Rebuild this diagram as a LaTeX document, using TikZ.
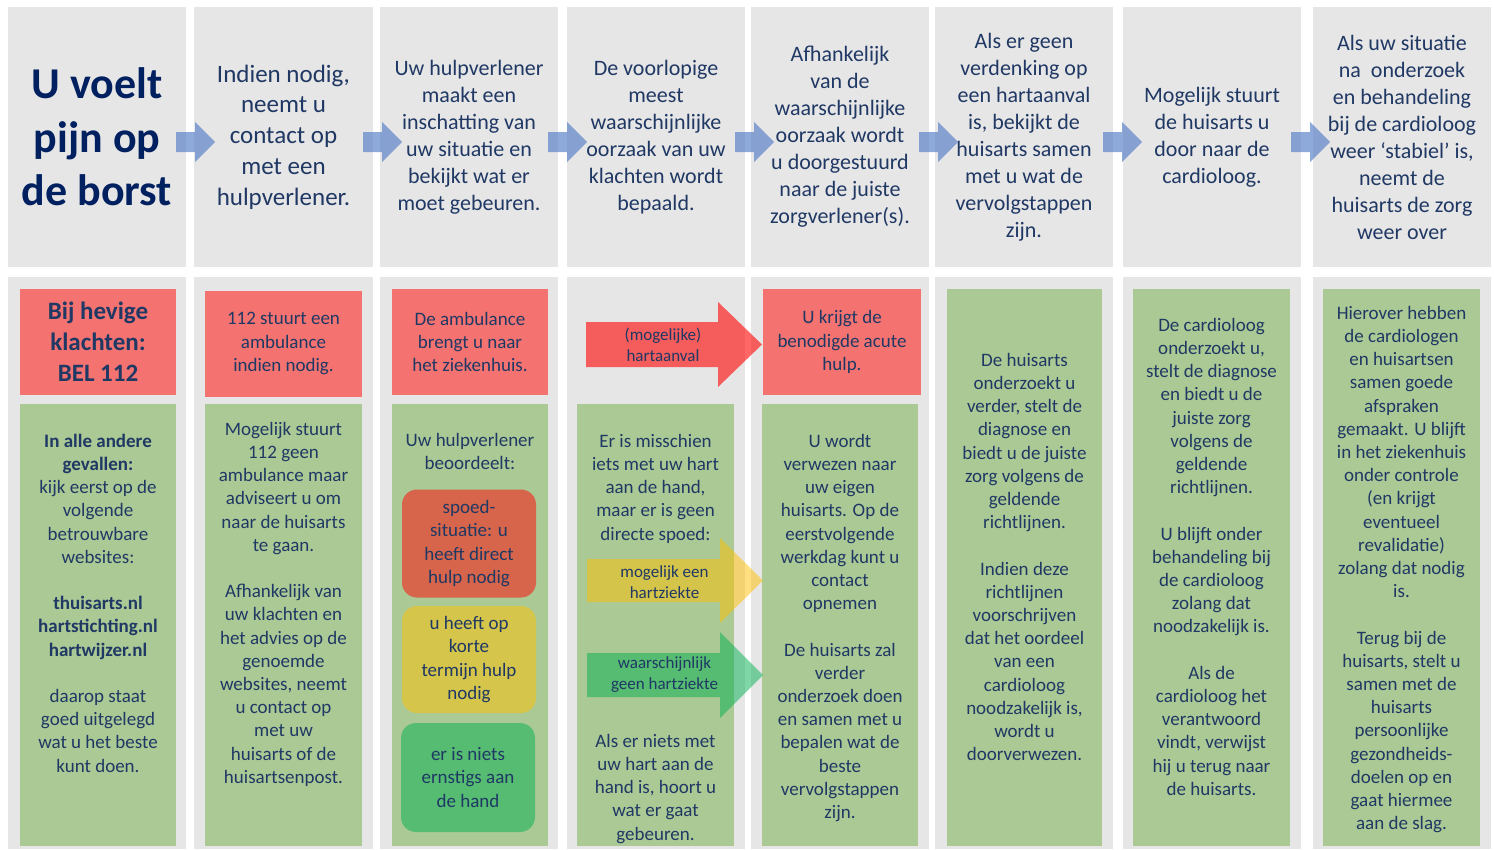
\documentclass[tikz,border=0pt]{standalone}
\usepackage{fontspec}
\setmainfont{Carlito}
\usetikzlibrary{positioning,calc}

\definecolor{panelgray}{HTML}{E7E6E6}
\definecolor{alarmred}{HTML}{F47371}
\definecolor{calmgreen}{HTML}{ABC995}
\definecolor{navy}{HTML}{1F3864}
\definecolor{titlenavy}{HTML}{002060}
\definecolor{stepblue}{HTML}{4472C4}
\definecolor{urgentred}{HTML}{D7654B}
\definecolor{soonyellow}{HTML}{D5C54B}
\definecolor{okgreen}{HTML}{55BC72}
\definecolor{gold}{HTML}{FFC000}
\definecolor{officegreen}{HTML}{00B050}

\newcommand{\bodyfont}{\fontsize{19}{23.2}\selectfont}
\newcommand{\fatarrow}[7]{\fill[#1] (#2,#5-#6) -- (#3,#5-#6) -- (#3,#5-#7) -- (#4,#5) -- (#3,#5+#7) -- (#3,#5+#6) -- (#2,#5+#6) -- cycle;}

\tikzset{
  topbox/.style={fill=panelgray, minimum width=178pt, minimum height=260pt, inner sep=0pt, align=center, text=navy, font=\fontsize{22}{27}\selectfont},
  panel/.style={fill=panelgray, minimum width=178pt, minimum height=572pt, inner sep=0pt},
  redbox/.style={fill=alarmred, minimum width=157pt, minimum height=106pt, inner sep=0pt, align=center, text=navy, font=\bodyfont},
  greenbox/.style={fill=calmgreen, minimum width=157pt, inner sep=0pt},
  roundbox/.style={rounded corners=15pt, minimum width=134pt, minimum height=108pt, inner sep=0pt, align=center, text=navy, font=\bodyfont},
  bodytext/.style={align=center, text=navy, font=\bodyfont, inner sep=0pt, execute at begin node=\strut},
  arrowtext/.style={align=center, text=navy, font=\fontsize{17}{21}\selectfont, inner sep=0pt},
  nextstep/.style={fill=stepblue, opacity=0.6}
}

\begin{document}
\begin{tikzpicture}[x=1pt,y=-1pt]
\useasboundingbox (0,0) rectangle (1494,849);
\fill[white] (0,0) rectangle (1494,849);

% Top row: the steps
\node[topbox, font=\fontsize{44}{53.5}\selectfont\bfseries, text=titlenavy] (t1) at (97,137) {U voelt\\pijn op\\de borst};
\node[topbox, minimum width=179pt, font=\fontsize{25}{30.8}\selectfont] (t2) at (283.5,137) {Indien nodig,\\neemt u\\contact op\\met een\\hulpverlener.};
\node[topbox] (t3) at (469,137) {Uw hulpverlener\\maakt een\\inschatting van\\uw situatie en\\bekijkt wat er\\moet gebeuren.};
\node[topbox] (t4) at (656,137) {De voorlopige\\meest\\waarschijnlijke\\oorzaak van uw\\klachten wordt\\bepaald.};
\node[topbox] (t5) at (840,137) {Afhankelijk\\van de\\waarschijnlijke\\oorzaak wordt\\u doorgestuurd\\naar de juiste\\zorgverlener(s).};
\node[topbox] (t6) at (1024,137) {Als er geen\\verdenking op\\een hartaanval\\is, bekijkt de\\huisarts samen\\met u wat de\\vervolgstappen\\zijn.};
\node[topbox] (t7) at (1212,137) {Mogelijk stuurt\\de huisarts u\\door naar de\\cardioloog.};
\node[topbox] (t8) at (1402,137) {Als uw situatie\\na~ onderzoek\\en behandeling\\bij de cardioloog\\weer ‘stabiel’ is,\\neemt de\\huisarts de zorg\\weer over};

% Arrows between the steps
\foreach \i in {1,...,7}
  \fill[nextstep] ($(t\i.east)+(-10,-5)$) -- ++(19,0) -- ++(0,-10) -- ++(20,20) -- ++(-20,20) -- ++(0,-10) -- ++(-19,0) -- cycle;

% Bottom row: grey panels
\node[panel] (b1) at (97,563) {};
\node[panel, minimum width=179pt] (b2) at (283.5,563) {};
\node[panel] (b3) at (469,563) {};
\node[panel] (b4) at (656,563) {};
\node[panel] (b5) at (840,563) {};
\node[panel] (b6) at (1024,563) {};
\node[panel] (b7) at (1212,563) {};
\node[panel] (b8) at (1402,563) {};

% Red boxes
\node[redbox, minimum width=156pt, font=\fontsize{25}{31}\selectfont\bfseries] (r1) at (98,342) {Bij hevige\\klachten:\\BEL 112};
\node[redbox] (r2) at (283.5,343.5) {112 stuurt een\\ambulance\\indien nodig.};
\node[redbox, minimum width=156pt] (r3) at (470,342) {De ambulance\\brengt u naar\\het ziekenhuis.};
\node[redbox, minimum width=158pt] (r5) at (842,342) {U krijgt de\\benodigde acute\\hulp.};

% Green boxes
\node[greenbox, minimum width=156pt, minimum height=442pt] (g1) at (98,625) {};
\node[greenbox, minimum height=442pt] (g2) at (283.5,625) {};
\node[greenbox, minimum width=156pt, minimum height=442pt] (g3) at (470,625) {};
\node[greenbox, minimum height=442pt] (g4) at (655.5,625) {};
\node[greenbox, minimum width=156pt, minimum height=442pt] (g5) at (840,625) {};
\node[greenbox, minimum width=155pt, minimum height=557pt] (g6) at (1024.5,567.5) {};
\node[greenbox, minimum height=557pt] (g7) at (1211.5,567.5) {};
\node[greenbox, minimum height=557pt] (g8) at (1401.5,567.5) {};

% Texts in the green boxes
\node[bodytext, below=30pt of g1.north] (g1txt) {\textbf{In alle andere}\\\textbf{gevallen:}\\kijk eerst op de\\volgende\\betrouwbare\\websites:\\[23.2pt]\textbf{thuisarts.nl}\\\textbf{hartstichting.nl}\\\textbf{hartwijzer.nl}\\[23.2pt]daarop staat\\goed uitgelegd\\wat u het beste\\kunt doen.};
\node[bodytext, below=18pt of g2.north] (g2txt) {Mogelijk stuurt\\112 geen\\ambulance maar\\adviseert u om\\naar de huisarts\\te gaan.\\[23.2pt]Afhankelijk van\\uw klachten en\\het advies op de\\genoemde\\websites, neemt\\u contact op\\met uw\\huisarts of de\\huisartsenpost.};
\node[bodytext, below=29pt of g3.north] (g3txt) {Uw hulpverlener\\beoordeelt:};
\node[bodytext, below=30pt of g4.north] (g4txt) {Er is misschien\\iets met uw hart\\aan de hand,\\maar er is geen\\directe spoed:};
\node[bodytext, below=330pt of g4.north] (g4low) {Als er niets met\\uw hart aan de\\hand is, hoort u\\wat er gaat\\gebeuren.};
\node[bodytext, below=30pt of g5.north] (g5txt) {U wordt\\verwezen naar\\uw eigen\\huisarts. Op de\\eerstvolgende\\werkdag kunt u\\contact\\opnemen\\[23.2pt]De huisarts zal\\verder\\onderzoek doen\\en samen met u\\bepalen wat de\\beste\\vervolgstappen\\zijn.};
\node[bodytext, below=64pt of g6.north] (g6txt) {De huisarts\\onderzoekt u\\verder, stelt de\\diagnose en\\biedt u de juiste\\zorg volgens de\\geldende\\richtlijnen.\\[23.2pt]Indien deze\\richtlijnen\\voorschrijven\\dat het oordeel\\van een\\cardioloog\\noodzakelijk is,\\wordt u\\doorverwezen.};
\node[bodytext, below=29pt of g7.north] (g7txt) {De cardioloog\\onderzoekt u,\\stelt de diagnose\\en biedt u de\\juiste zorg\\volgens de\\geldende\\richtlijnen.\\[23.2pt]U blijft onder\\behandeling bij\\de cardioloog\\zolang dat\\noodzakelijk is.\\[23.2pt]Als de\\cardioloog het\\verantwoord\\vindt, verwijst\\hij u terug naar\\de huisarts.};
\node[bodytext, below=17pt of g8.north] (g8txt) {Hierover hebben\\de cardiologen\\en huisartsen\\samen goede\\afspraken\\gemaakt. U blijft\\in het ziekenhuis\\onder controle\\(en krijgt\\eventueel\\revalidatie)\\zolang dat nodig\\is.\\[23.2pt]Terug bij de\\huisarts, stelt u\\samen met de\\huisarts\\persoonlijke\\gezondheids-\\doelen op en\\gaat hiermee\\aan de slag.};

% Assessment of the care provider
\node[roundbox, fill=urgentred] (spoed) at (469,543.5) {spoed-\\situatie: u\\heeft direct\\hulp nodig};
\node[roundbox, fill=soonyellow, minimum height=107pt] (kort) at (469,659.5) {u heeft op\\korte\\termijn hulp\\nodig};
\node[roundbox, fill=okgreen, minimum height=109pt] (niets) at (468,777.5) {er is niets\\ernstigs aan\\de hand};

% Causes pointing to the next column
\fatarrow{red, opacity=0.6}{586}{718}{762}{344.5}{22.5}{42.5}
\fatarrow{gold, opacity=0.5}{587}{720}{763}{580.5}{21.5}{42.5}
\fatarrow{officegreen, opacity=0.5}{587}{720}{763}{675}{22}{43}
\node[arrowtext] (infarct) at (663,344.5) {(mogelijke)\\hartaanval};
\node[arrowtext] (disease) at (664.5,582) {mogelijk een\\hartziekte};
\node[arrowtext] (healthy) at (664.5,675) {waarschijnlijk\\geen hartziekte};
\end{tikzpicture}
\end{document}
